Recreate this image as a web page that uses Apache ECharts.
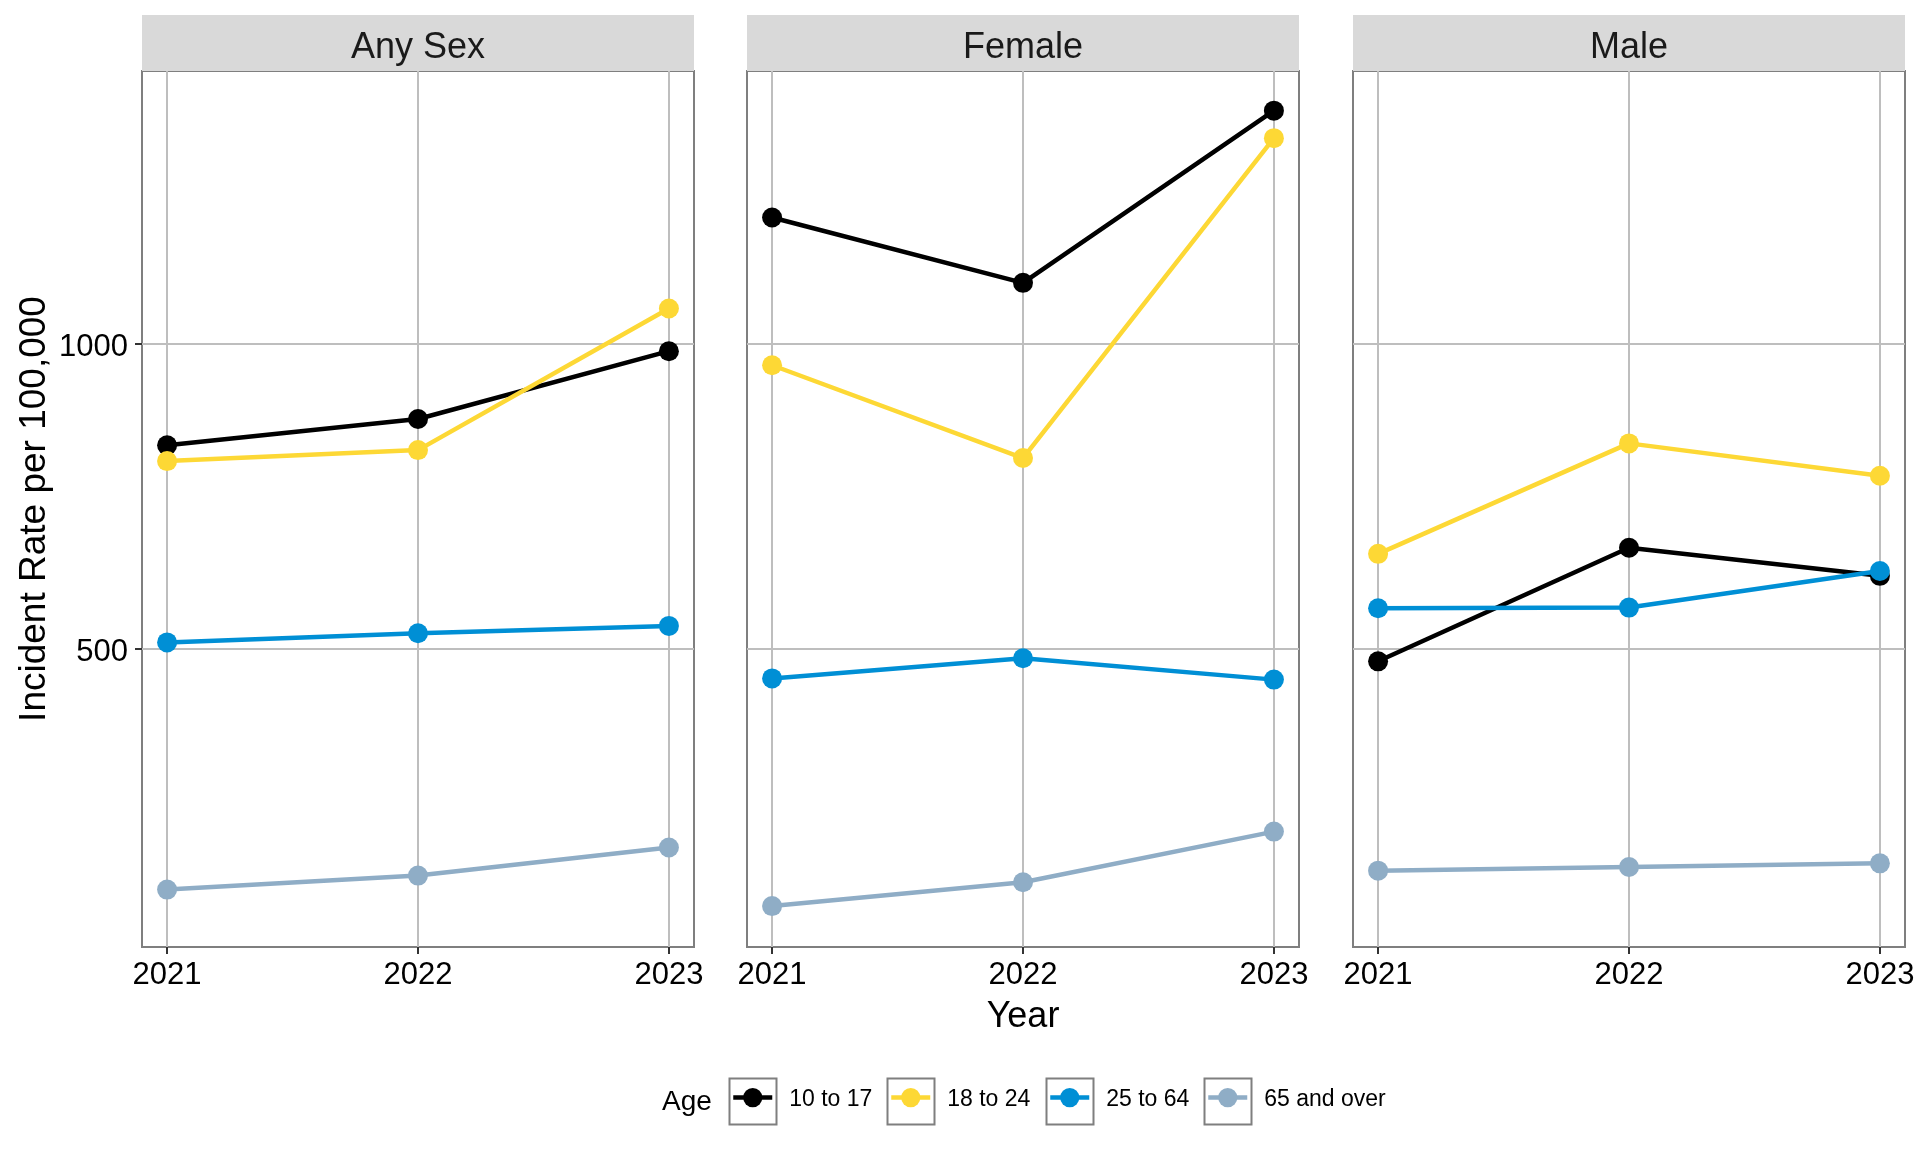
<!DOCTYPE html>
<html><head><meta charset="utf-8">
<script src="https://cdn.jsdelivr.net/npm/echarts@6/dist/echarts.min.js"></script>
<style>html,body{margin:0;padding:0;background:#fff}#chart{width:1920px;height:1152px}</style>
</head><body><div id="chart"></div>
<script>
// ---------- data ----------
const years = [2021, 2022, 2023];
const panelNames = ['Any Sex', 'Female', 'Male'];
const ageGroups = ['10 to 17', '18 to 24', '25 to 64', '65 and over'];
const yTickValues = [500, 1000];

const anySex10to17 = [833, 876, 987];
const anySex18to24 = [807, 825, 1057];
const anySex25to64 = [510, 525, 537];
const anySex65plus = [105, 128, 174];

const female10to17 = [1206, 1099, 1381];
const female18to24 = [964, 812, 1336];
const female25to64 = [451, 484, 449];
const female65plus = [78, 117, 200];

const male10to17 = [479, 665, 619];
const male18to24 = [655, 836, 783];
const male25to64 = [566, 567, 627];
const male65plus = [136, 142, 148];

const panelSeries = [
  [anySex10to17, anySex18to24, anySex25to64, anySex65plus],
  [female10to17, female18to24, female25to64, female65plus],
  [male10to17, male18to24, male25to64, male65plus]
];
const ageColors = ['#000000', '#FDD835', '#008FD5', '#8FADC6'];

// ---------- layout ----------
const FONT = '"Liberation Sans", Arial, sans-serif';
const gridLefts = [142, 747, 1353];
const gridW = 552, gridTop = 71, gridH = 876;
const stripTop = 15, stripH = 56;
const keyLefts = [727, 885, 1044, 1202];
const keyTop = 1076, keySize = 46, keyW = 47;

const chart = echarts.init(document.getElementById('chart'), null, {renderer: 'canvas'});

const grids = gridLefts.map(l => ({
  left: l, top: gridTop, width: gridW, height: gridH,
  show: true, borderColor: '#7f7f7f', borderWidth: 2, backgroundColor: '#fff',
  containLabel: false, outerBoundsMode: 'none'
}));

const gridLineStyle = {color: '#bebebe', width: 2};

const xAxes = gridLefts.map((_, i) => ({
  type: 'value', gridIndex: i, min: 2020.9, max: 2023.1,
  axisLine: {show: false},
  axisTick: {show: true, length: 7, customValues: years, lineStyle: {color: '#333', width: 2}},
  axisLabel: {customValues: years, formatter: v => String(v), fontSize: 31, color: '#000', margin: 13, fontFamily: FONT},
  splitLine: {show: true, lineStyle: gridLineStyle},
  name: i === 1 ? 'Year' : '', nameLocation: 'middle', nameGap: 52,
  nameTextStyle: {fontSize: 36, color: '#000', fontFamily: FONT}
}));

const yAxes = gridLefts.map((_, i) => ({
  type: 'value', gridIndex: i, min: 11, max: 1446,
  axisLine: {show: false},
  axisTick: {show: i === 0, length: 7, customValues: yTickValues, lineStyle: {color: '#333', width: 2}},
  axisLabel: {show: i === 0, customValues: yTickValues, formatter: v => '{t|' + v + '}', fontSize: 31, color: '#000', margin: 14, fontFamily: FONT,
    rich: {t: {fontSize: 31, color: '#000', fontFamily: FONT, padding: [8, 0, 0, 0]}}},
  splitLine: {show: true, lineStyle: gridLineStyle},
  name: i === 0 ? 'Incident Rate per 100,000' : '', nameLocation: 'middle', nameGap: 89, nameRotate: 90,
  nameTextStyle: {fontSize: 37, color: '#000', fontFamily: FONT}
}));

const series = [];
panelSeries.forEach((groups, p) => {
  groups.forEach((vals, g) => {
    series.push({
      type: 'line', name: ageGroups[g], xAxisIndex: p, yAxisIndex: p,
      data: years.map((y, k) => [y, vals[k]]),
      symbol: 'circle', symbolSize: 20, showSymbol: true,
      lineStyle: {width: 4.5, color: ageColors[g]},
      itemStyle: {color: ageColors[g]},
      z: 2 + g, silent: true
    });
  });
});

const legends = ageGroups.map((name, g) => ({
  data: [name], left: keyLefts[g] + 4, top: keyTop + keySize / 2 - 11,
  padding: 0, itemWidth: 39, itemHeight: 24, selectedMode: false,
  lineStyle: {width: 4.5},
  itemStyle: {borderWidth: 0},
  formatter: n => '{l|' + n + '}',
  textStyle: {fontSize: 23, color: '#000', fontFamily: FONT,
    rich: {l: {fontSize: 23, color: '#000', fontFamily: FONT, padding: [5, 0, 0, 12]}}}
}));

const graphics = [];
gridLefts.forEach((l, i) => {
  graphics.push({type: 'rect', left: l, top: stripTop, shape: {width: gridW, height: stripH}, style: {fill: '#d9d9d9'}, z: 0, silent: true});
  graphics.push({type: 'text', x: l + gridW / 2, y: stripTop + stripH / 2 + 5,
    style: {text: panelNames[i], fill: '#1a1a1a', font: '36px ' + FONT, textAlign: 'center', textVerticalAlign: 'middle'}, z: 1, silent: true});
});
keyLefts.forEach(kl => {
  graphics.push({type: 'rect', left: kl, top: keyTop, shape: {width: keyW, height: keySize}, style: {fill: 'none', stroke: '#7f7f7f', lineWidth: 2}, z: 0, silent: true});
});
graphics.push({type: 'text', x: 662, y: keyTop + keySize / 2 + 3,
  style: {text: 'Age', fill: '#000', font: '28px ' + FONT, textAlign: 'left', textVerticalAlign: 'middle'}, silent: true});

chart.setOption({
  animation: false,
  backgroundColor: '#fff',
  textStyle: {fontFamily: FONT},
  grid: grids,
  xAxis: xAxes,
  yAxis: yAxes,
  legend: legends,
  series: series,
  graphic: graphics
});
</script></body></html>
